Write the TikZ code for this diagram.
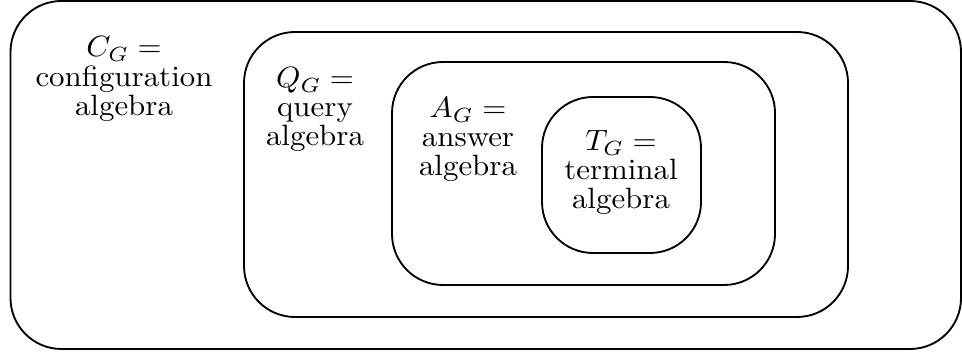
\documentclass[tikz,border=0pt]{standalone}
\begin{document}
\begin{tikzpicture}[x=0.3236pt,y=-0.3236pt,
  box/.style={draw=black,line width=0.6pt,rounded corners=16.5pt},
  lbl/.style={anchor=base,inner sep=0pt,yscale=0.95,font=\fontsize{10}{9.7}\selectfont}]
\useasboundingbox (0,0) rectangle (962,358);
\draw[box] (10.5,1) rectangle (961,349);
\draw[box] (244,32) rectangle (848,317);
\draw[box] (392,62) rectangle (775,285);
\draw[box] (542,97) rectangle (701,253);
\node[lbl] (c) at (124,57) {\begin{tabular}[t]{@{}c@{}}$C_G =$\\configuration\\algebra\end{tabular}};
\node[lbl] (q) at (315,88) {\begin{tabular}[t]{@{}c@{}}$Q_G =$\\query\\algebra\end{tabular}};
\node[lbl] (a) at (468,118) {\begin{tabular}[t]{@{}c@{}}$A_G =$\\answer\\algebra\end{tabular}};
\node[lbl] (t) at (621,151) {\begin{tabular}[t]{@{}c@{}}$T_G =$\\terminal\\algebra\end{tabular}};
\end{tikzpicture}
\end{document}
